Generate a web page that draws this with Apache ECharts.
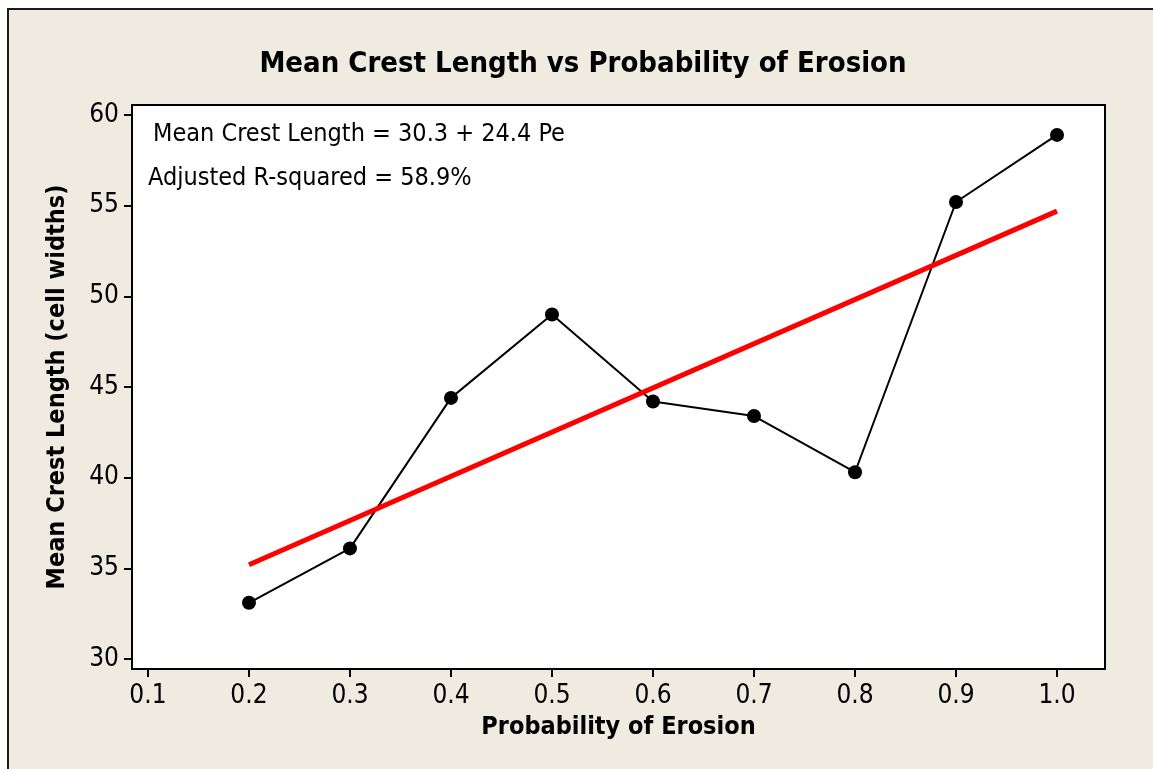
<!DOCTYPE html>
<html><head><meta charset="utf-8">
<script src="https://cdn.jsdelivr.net/npm/echarts@6/dist/echarts.min.js"></script>
<style>html,body{margin:0;padding:0;background:#fff;}#c{width:1153px;height:769px;}</style>
</head><body><div id="c"></div>
<script>
// Data
const probErosion = [0.2, 0.3, 0.4, 0.5, 0.6, 0.7, 0.8, 0.9, 1.0];
const meanCrest = [33.1, 36.1, 44.4, 49.0, 44.2, 43.4, 40.3, 55.2, 58.9];
const fitX = [0.2, 1.0];
const fitY = [35.2, 54.7];
const xTicks = [0.1, 0.2, 0.3, 0.4, 0.5, 0.6, 0.7, 0.8, 0.9, 1.0];
const yTicks = [30, 35, 40, 45, 50, 55, 60];
const titleText = 'Mean Crest Length vs Probability of Erosion';
const xName = 'Probability of Erosion';
const yName = 'Mean Crest Length (cell widths)';
const eqText = 'Mean Crest Length = 30.3 + 24.4 Pe';
const r2Text = 'Adjusted R-squared = 58.9%';

const FONT = '"DejaVu Sans Condensed", "DejaVu Sans", sans-serif';
const chart = echarts.init(document.getElementById('c'), null, {renderer: 'canvas'});
const option = {
  animation: false,
  backgroundColor: '#ffffff',
  graphic: [
    {type: 'rect', z: -10, shape: {x: 8, y: 9, width: 1160, height: 780},
     style: {fill: '#efebe1', stroke: '#1a1a1a', lineWidth: 2}},
    {type: 'text', x: 583, y: 64, z: 10,
     style: {text: titleText, font: 'bold 29px ' + FONT, fill: '#000', align: 'center', verticalAlign: 'middle'}},
    {type: 'text', x: 153, y: 134, z: 10,
     style: {text: eqText, font: '25px ' + FONT, fill: '#000', align: 'left', verticalAlign: 'middle'}},
    {type: 'text', x: 148, y: 178, z: 10,
     style: {text: r2Text, font: '25px ' + FONT, fill: '#000', align: 'left', verticalAlign: 'middle'}}
  ],
  grid: {left: 132, top: 105, width: 973, height: 564, show: true,
         backgroundColor: '#ffffff', borderColor: '#000', borderWidth: 2},
  xAxis: {
    type: 'value', min: 0.0842, max: 1.0475,
    name: xName, nameLocation: 'middle', nameGap: 46,
    nameTextStyle: {fontFamily: FONT, fontWeight: 'bold', fontSize: 25, color: '#000'},
    axisLine: {show: true, lineStyle: {color: '#000', width: 2}},
    axisTick: {show: true, inside: false, length: 8, customValues: xTicks, lineStyle: {color: '#000', width: 2}},
    axisLabel: {customValues: xTicks, fontFamily: FONT, fontSize: 26, color: '#000', margin: 14,
                formatter: v => Number(v).toFixed(1)},
    splitLine: {show: false}
  },
  yAxis: {
    type: 'value', min: 29.45, max: 60.55,
    name: yName, nameLocation: 'middle', nameGap: 62,
    nameTextStyle: {fontFamily: FONT, fontWeight: 'bold', fontSize: 25, color: '#000'},
    axisLine: {show: true, lineStyle: {color: '#000', width: 2}},
    axisTick: {show: true, inside: false, length: 8, customValues: yTicks, lineStyle: {color: '#000', width: 2}},
    axisLabel: {customValues: yTicks, fontFamily: FONT, fontSize: 26, color: '#000', margin: 13,
                formatter: v => String(Math.round(v))},
    splitLine: {show: false}
  },
  series: [
    {type: 'line', data: probErosion.map((x, i) => [x, meanCrest[i]]),
     symbol: 'circle', symbolSize: 14, itemStyle: {color: '#000'},
     lineStyle: {color: '#000', width: 2}, z: 3},
    {type: 'line', data: fitX.map((x, i) => [x, fitY[i]]), symbol: 'none',
     lineStyle: {color: '#ff0000', width: 5}, z: 4}
  ]
};
chart.setOption(option);
</script></body></html>
